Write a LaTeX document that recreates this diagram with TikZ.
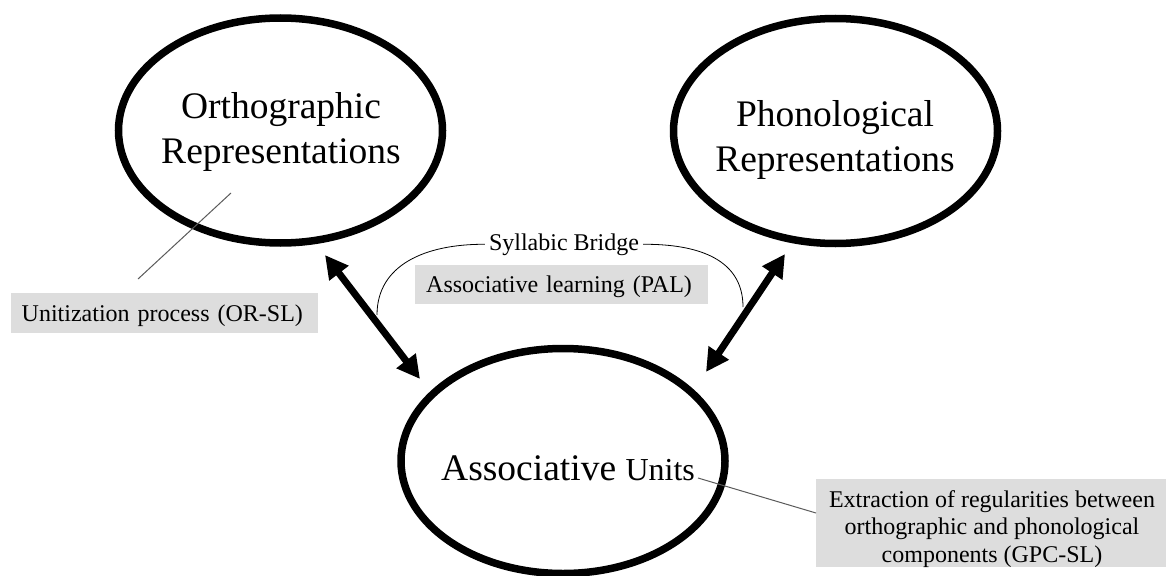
\documentclass[tikz,border=0pt]{standalone}
\usepackage{fontspec}
\setmainfont{Liberation Serif}
\usetikzlibrary{arrows.meta,shapes.geometric}
\definecolor{boxgray}{RGB}{221,221,221}
\definecolor{leadgray}{RGB}{90,90,90}
\tikzset{bubble/.style={draw, ellipse, line width=7.5pt,
    minimum width=324pt, minimum height=225pt, inner sep=0pt},
  bigtext/.style={font=\fontsize{37.5}{45}\selectfont, align=center},
  smalltext/.style={font=\fontsize{24}{27.5}\selectfont},
  graybox/.style={fill=boxgray, smalltext, text height=20pt, text depth=4pt,
    align=left, anchor=north west},
  leader/.style={draw=leadgray, line width=1pt},
  dblarrow/.style={{Triangle[length=23pt,width=23pt]}-{Triangle[length=23pt,width=23pt]},
    line width=7pt}}

\begin{document}
\begin{tikzpicture}[x=1pt,y=-1pt]
  \useasboundingbox (0,0) rectangle (1166,575);
  \clip (0,0) rectangle (1166,575);

  \node[bubble] (ortho) at (280.5,130.5) {};
  \node[bigtext] (orthotext) at (281,132) {Orthographic\\Representations};
  \node[bubble] (phono) at (835.5,131) {};
  \node[bigtext] (phonotext) at (835,140) {Phonological\\Representations};
  \node[bubble] (assoc) at (563,461) {};
  \node[bigtext, anchor=base west, inner sep=0pt] (units) at (441,480)
    {Associative {\fontsize{32}{38}\selectfont Units}};

  % links between the representations
  \coordinate (o1) at (325,255);
  \coordinate (a1) at (420,379);
  \coordinate (p1) at (785,254);
  \coordinate (a2) at (706,372);
  \draw[dblarrow] (o1) -- (a1);
  \draw[dblarrow] (p1) -- (a2);

  % syllabic bridge
  \node[smalltext, anchor=base, inner xsep=4pt] (bridge) at (564,250) {Syllabic Bridge};
  \coordinate (bl) at (377,315);
  \coordinate (br) at (743,307);
  \draw[line width=0.8pt] (bridge.west) .. controls (425,244) and (377,265) .. (bl);
  \draw[line width=0.8pt] (bridge.east) .. controls (700,244) and (743,260) .. (br);
  \node[graybox, text width=271pt, inner xsep=11pt, inner ysep=7.5pt] (pal) at (415,265)
    {Associative learning (PAL)};

  % unitization
  \node[graybox, text width=286pt, inner xsep=10.5pt, inner ysep=8pt] (unit) at (11,293)
    {Unitization process (OR-SL)};
  \coordinate (u1) at (138,279);
  \coordinate (u2) at (231,193);
  \draw[leader] (u1) -- (u2);

  % extraction
  \node[fill=boxgray, minimum width=354pt, minimum height=88pt, anchor=north west,
    inner sep=0pt] (extractbox) at (816,479) {};
  \node[smalltext, align=center] (extract) at (992,529)
    {Extraction of regularities between\\orthographic and phonological\\components (GPC-SL)};
  \coordinate (unitsend) at (698,478);
  \coordinate (boxin) at (816,513);
  \draw[leader] (unitsend) -- (boxin);
\end{tikzpicture}
\end{document}
